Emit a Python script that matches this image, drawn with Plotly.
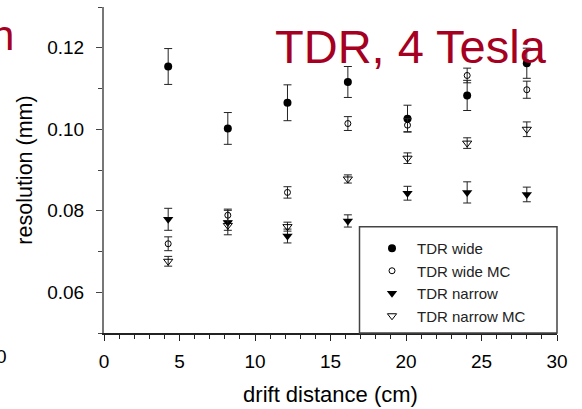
import plotly.graph_objects as go

# drift distance (cm) for each measured point
drift_cm = [4.25, 8.2, 12.15, 16.15, 20.1, 24.05, 28.0]

# spatial resolution (mm) and symmetric errors for each sample
wide = [0.1154, 0.1002, 0.1065, 0.1116, 0.1026, 0.1083, 0.1162]
wide_err = [0.0044, 0.0039, 0.0044, 0.0038, 0.0033, 0.0037, 0.0037]

wide_mc = [0.0719, 0.0789, 0.0845, 0.1014, 0.1010, 0.1132, 0.1097]
wide_mc_err = [0.0017, 0.0015, 0.0014, 0.0017, 0.0016, 0.0018, 0.0021]

narrow = [0.0779, 0.0771, 0.0738, 0.0775, 0.0843, 0.0845, 0.0840]
narrow_err = [0.0027, 0.0030, 0.0017, 0.0015, 0.0017, 0.0026, 0.0018]

narrow_mc = [0.0676, 0.0764, 0.0761, 0.0878, 0.0929, 0.0966, 0.1000]
narrow_mc_err = [0.0012, 0.0012, 0.0011, 0.0010, 0.0013, 0.0013, 0.0018]

x_ticks = [0, 5, 10, 15, 20, 25, 30]
y_ticks = [0.06, 0.08, 0.10, 0.12]

FONT = "Liberation Sans, Arial, sans-serif"
RED = "#A50021"

# plot-area geometry in pixels
W, H = 582, 409
L, R, T, B = 104, 25, 7, 76
PW, PH = W - L - R, H - T - B


def px_x(px):
    return (px - L) / PW


def px_y(py):
    return (H - B - py) / PH


series = [
    ("TDR wide", wide, wide_err, "circle", 8, "black", 0),
    ("TDR wide MC", wide_mc, wide_mc_err, "circle-open", 6, "black", 1),
    ("TDR narrow", narrow, narrow_err, "triangle-down", 9, "black", 0),
    ("TDR narrow MC", narrow_mc, narrow_mc_err, "triangle-down-open", 8, "black", 1),
]

fig = go.Figure()
for name, vals, errs, sym, size, col, lw in series:
    fig.add_trace(go.Scatter(
        x=drift_cm, y=vals, name=name, mode="markers",
        marker=dict(symbol=sym, size=size, color=col,
                    line=dict(color="black", width=lw)),
        error_y=dict(type="data", array=errs, visible=True,
                     color="#222", thickness=1, width=4),
    ))

axis_common = dict(showgrid=False, zeroline=False, showline=True)

fig.update_layout(
    width=W, height=H,
    margin=dict(l=L, r=R, t=T, b=B),
    paper_bgcolor="white", plot_bgcolor="white",
    font=dict(family=FONT, color="black"),
    showlegend=True,
    xaxis=dict(
        **axis_common, range=[0, 30], tickvals=x_ticks,
        linecolor="#222", linewidth=1.5,
        ticks="outside", ticklen=6, tickwidth=1, tickcolor="#222",
        minor=dict(dtick=1, ticks="outside", ticklen=4, tickcolor="#222"),
        tickfont=dict(size=19), ticklabelstandoff=4,
        title=dict(text="drift distance (cm)", font=dict(size=22), standoff=16),
    ),
    yaxis=dict(
        **axis_common, range=[0.05, 0.13], tickvals=y_ticks, tickformat=".2f",
        linecolor="#777", linewidth=2,
        ticks="outside", ticklen=6, tickwidth=1, tickcolor="#444",
        minor=dict(dtick=0.01, ticks="outside", ticklen=4, tickcolor="#444"),
        tickfont=dict(size=19), ticklabelstandoff=8,
        title=dict(text="resolution (mm)", font=dict(size=21.5), standoff=9),
    ),
    # frame on top and right carries inward ticks
    xaxis2=dict(
        **axis_common, overlaying="x", matches="x", side="top", anchor="y",
        range=[0, 30], tickvals=x_ticks, showticklabels=False,
        linecolor="#777", linewidth=2,
        ticks="inside", ticklen=5, tickcolor="#444",
        minor=dict(dtick=1, ticks="inside", ticklen=3, tickcolor="#444"),
    ),
    yaxis2=dict(
        **axis_common, overlaying="y", matches="y", side="right", anchor="x",
        range=[0.05, 0.13], tickvals=y_ticks, showticklabels=False,
        linecolor="#111", linewidth=1.5,
        ticks="inside", ticklen=5, tickcolor="#222",
        minor=dict(dtick=0.01, ticks="inside", ticklen=3, tickcolor="#222"),
    ),
    legend=dict(
        x=px_x(367), y=px_y(232), xanchor="left", yanchor="top",
        bgcolor="rgba(0,0,0,0)", borderwidth=0,
        font=dict(size=15, color="#222"),
        itemwidth=40, tracegroupgap=0,
    ),
)

# legend frame
fig.add_shape(type="rect", xref="paper", yref="paper",
              x0=px_x(359.5), x1=1, y0=0, y1=px_y(226.7),
              line=dict(color="#444", width=1.5), fillcolor="white",
              layer="above")

fig.add_annotation(text="TDR, 4 Tesla", xref="paper", yref="paper",
                   x=px_x(273), y=px_y(18), xanchor="left", yanchor="top",
                   showarrow=False, font=dict(size=47, color=RED, family=FONT))

# fragments of neighbouring text at the page edges
fig.add_annotation(text="n", xref="paper", yref="paper",
                   x=px_x(-11), y=px_y(10), xanchor="left", yanchor="top",
                   showarrow=False, font=dict(size=42, color=RED, family=FONT))
fig.add_annotation(text="0", xref="paper", yref="paper",
                   x=px_x(-6), y=px_y(344), xanchor="left", yanchor="top",
                   showarrow=False, font=dict(size=19, color="black", family=FONT))

fig.write_html("out.html")
